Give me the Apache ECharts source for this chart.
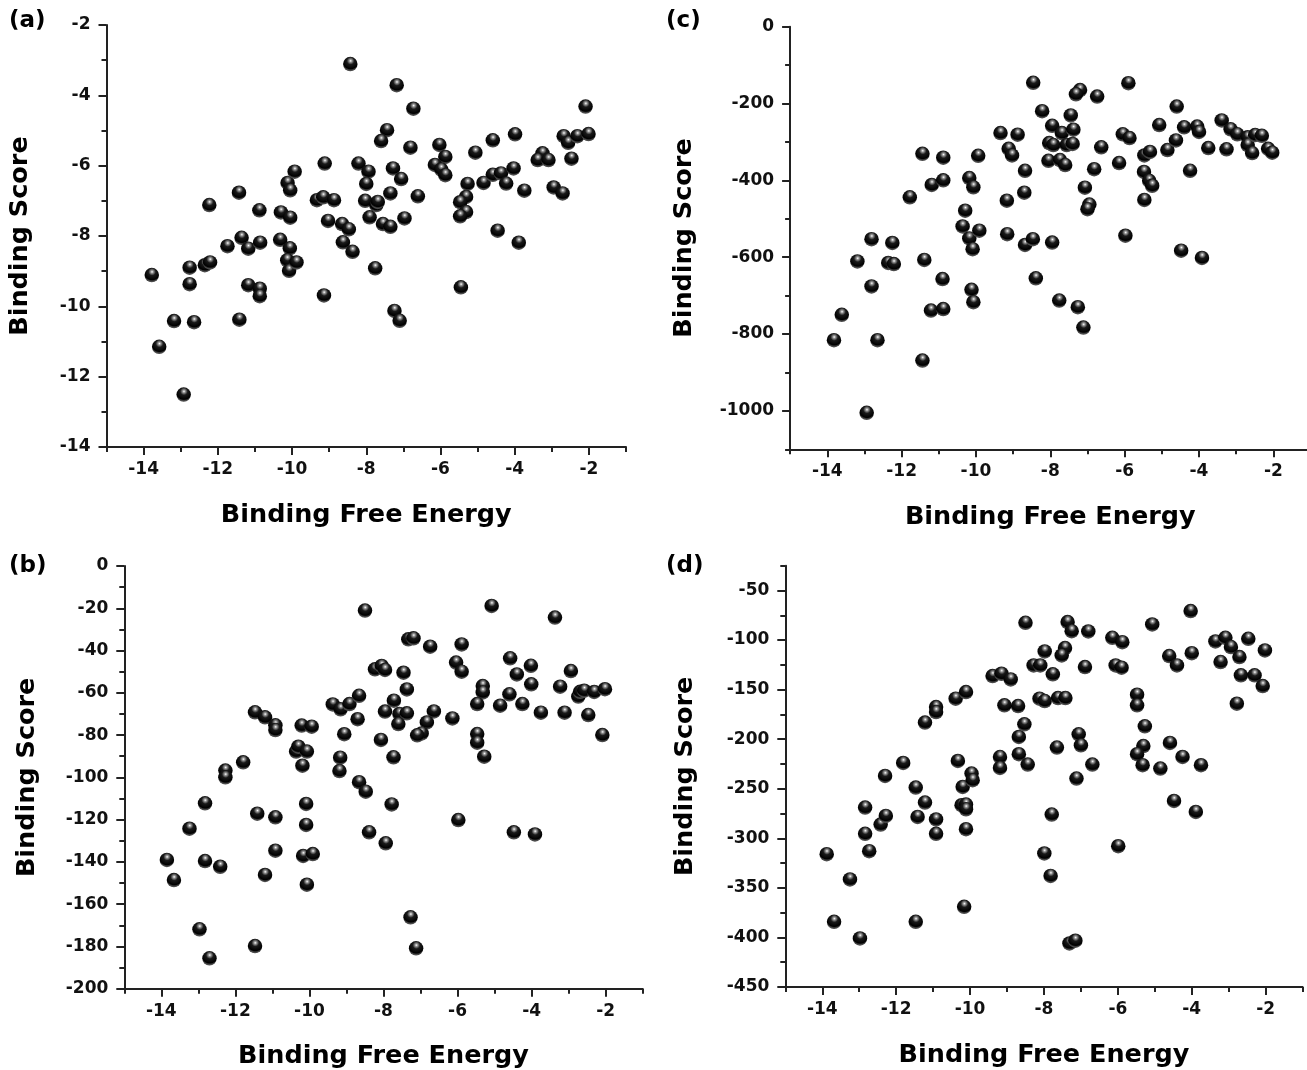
<!DOCTYPE html>
<html>
<head>
<meta charset="utf-8">
<script src="https://cdn.jsdelivr.net/npm/echarts@6/dist/echarts.min.js"></script>
<style>
  html, body { margin: 0; background: #fff; }
  #chart { width: 1307px; height: 1070px; }
</style>
</head>
<body>
<div id="chart"></div>
<script>
// [binding free energy, binding score]
const pointsA = [
  [-13.78,-9.11],[-13.58,-11.15],[-13.18,-10.42],[-12.92,-12.51],[-12.76,-8.90],[-12.76,-9.37],[-12.64,-10.45],
  [-12.35,-8.83],[-12.21,-8.75],[-12.23,-7.12],[-11.74,-8.29],[-11.43,-6.77],[-11.42,-10.38],[-11.36,-8.05],
  [-11.18,-8.36],[-11.18,-9.40],[-10.88,-7.27],[-10.86,-8.19],[-10.87,-9.50],[-10.87,-9.71],[-10.32,-8.11],
  [-10.30,-7.33],[-10.12,-6.49],[-10.05,-6.70],[-10.05,-7.48],[-10.06,-8.35],[-10.13,-8.69],[-10.08,-8.99],
  [-9.88,-8.75],[-9.93,-6.17],[-9.33,-6.98],[-9.16,-6.90],[-9.12,-5.94],[-9.14,-9.69],[-8.87,-6.98],
  [-9.03,-7.57],[-8.65,-7.66],[-8.47,-7.81],[-8.63,-8.18],[-8.37,-8.45],[-8.21,-5.94],[-8.43,-3.11],
  [-7.94,-6.17],[-8.00,-6.52],[-8.03,-7.00],[-7.73,-7.12],[-7.69,-7.03],[-7.91,-7.47],[-7.55,-7.66],
  [-7.35,-7.74],[-7.76,-8.92],[-7.18,-3.71],[-6.73,-4.38],[-7.44,-4.99],[-7.60,-5.30],[-6.81,-5.49],
  [-7.28,-6.08],[-7.06,-6.38],[-7.35,-6.79],[-6.61,-6.87],[-6.97,-7.50],[-7.24,-10.13],[-7.10,-10.41],
  [-6.03,-5.41],[-5.87,-5.75],[-6.15,-5.98],[-5.98,-6.11],[-5.87,-6.27],[-5.06,-5.63],[-5.27,-6.52],
  [-5.31,-6.89],[-5.47,-7.04],[-5.31,-7.32],[-5.47,-7.44],[-5.45,-9.46],[-4.59,-5.28],[-4.84,-6.49],
  [-4.59,-6.26],[-4.37,-6.22],[-4.23,-6.51],[-4.46,-7.85],[-3.99,-5.11],[-4.03,-6.08],[-3.74,-6.71],
  [-3.89,-8.19],[-3.25,-5.65],[-3.38,-5.84],[-3.09,-5.84],[-2.95,-6.62],[-2.71,-6.79],[-2.68,-5.16],
  [-2.56,-5.35],[-2.31,-5.16],[-2.47,-5.80],[-2.01,-5.10],[-2.09,-4.32]
];
const pointsB = [
  [-13.85,-139.1],[-13.66,-148.6],[-13.24,-124.3],[-12.97,-171.9],[-12.82,-112.3],[-12.82,-139.6],[-12.70,-185.6],
  [-12.41,-142.3],[-12.27,-96.8],[-12.27,-100.0],[-11.79,-92.9],[-11.47,-69.2],[-11.41,-117.2],[-11.47,-179.8],
  [-11.20,-71.6],[-11.20,-146.2],[-10.92,-75.4],[-10.92,-77.6],[-10.92,-118.9],[-10.92,-134.7],[-10.36,-87.8],
  [-10.30,-85.5],[-10.21,-75.5],[-10.07,-87.8],[-10.19,-94.5],[-9.94,-76.0],[-10.09,-112.6],[-10.09,-122.5],
  [-10.17,-137.2],[-9.91,-136.3],[-10.07,-150.8],[-9.37,-65.5],[-9.16,-67.8],[-8.92,-65.3],[-8.66,-61.4],
  [-8.70,-72.5],[-9.06,-79.6],[-9.17,-90.7],[-9.19,-97.0],[-8.66,-102.3],[-8.50,-21.1],
  [-8.48,-106.8],[-8.39,-126.0],[-8.23,-48.9],[-8.05,-47.3],[-7.96,-49.2],[-7.46,-50.5],[-7.37,-58.4],
  [-7.72,-63.7],[-7.96,-68.9],[-7.57,-70.0],[-7.37,-69.7],[-7.60,-74.8],[-8.07,-82.3],[-7.73,-90.5],
  [-7.78,-112.8],[-7.94,-131.2],[-7.33,-34.7],[-7.19,-34.2],[-6.74,-38.2],[-6.64,-68.8],[-6.83,-74.0],
  [-6.97,-79.2],[-7.09,-80.1],[-7.27,-166.2],[-7.12,-180.9],[-6.14,-72.1],[-6.04,-45.7],[-5.89,-50.0],
  [-5.89,-37.1],[-5.98,-120.2],[-5.08,-18.9],[-5.32,-56.8],[-5.32,-59.8],[-5.47,-65.3],[-5.47,-79.5],
  [-5.47,-83.6],[-5.28,-90.2],[-4.85,-66.1],[-4.60,-60.7],[-4.58,-43.7],[-4.40,-51.3],[-4.25,-65.3],
  [-4.02,-47.2],[-4.01,-56.0],[-3.75,-69.4],[-4.48,-126.0],[-3.91,-127.0],[-3.37,-24.4],[-3.23,-57.1],
  [-3.11,-69.4],[-2.94,-49.7],[-2.74,-61.8],[-2.69,-59.5],[-2.58,-59.0],[-2.47,-70.5],[-2.31,-59.6],
  [-2.02,-58.3],[-2.09,-80.0]
];
const pointsC = [
  [-13.82,-816],[-13.61,-750],[-12.94,-1005],[-13.19,-611],[-12.81,-553],[-12.81,-676],[-12.65,-816],
  [-12.25,-563],[-12.36,-615],[-12.21,-618],[-11.78,-444],[-11.44,-331],[-11.39,-607],[-11.44,-869],
  [-11.19,-412],[-11.21,-739],[-10.88,-341],[-10.88,-400],[-10.90,-657],[-10.88,-735],[-10.18,-394],
  [-10.07,-418],[-10.29,-479],[-10.36,-520],[-10.18,-551],[-10.09,-579],[-9.91,-531],[-10.12,-685],
  [-10.07,-717],[-9.94,-336],[-9.34,-277],[-9.12,-318],[-9.03,-335],[-8.88,-281],[-9.17,-453],
  [-9.16,-540],[-8.68,-375],[-8.70,-432],[-8.68,-568],
  [-8.46,-146],[-8.22,-220],[-7.95,-258],[-7.69,-277],[-7.45,-231],[-7.38,-268],[-8.03,-303],
  [-7.92,-308],[-7.56,-308],[-7.40,-305],[-8.05,-349],[-7.74,-347],[-7.60,-360],[-8.47,-553],
  [-7.95,-562],[-8.39,-655],[-7.76,-713],[-7.26,-730],[-7.11,-783],[-7.20,-165],[-7.31,-176],
  [-6.74,-182],[-6.63,-314],[-6.82,-371],[-7.07,-419],[-6.95,-463],[-7.00,-475],[-5.90,-147],
  [-6.05,-280],[-5.87,-290],[-6.15,-355],[-5.98,-544],[-5.47,-335],[-5.32,-326],[-5.48,-378],
  [-5.34,-401],[-5.26,-414],[-5.47,-451],[-5.07,-256],[-4.85,-321],[-4.62,-296],[-4.60,-208],
  [-4.40,-262],[-4.05,-260],[-4.00,-274],[-4.24,-375],[-4.48,-583],[-3.92,-602],[-3.75,-316],
  [-3.39,-244],[-3.26,-319],[-3.15,-267],[-2.97,-280],[-2.69,-288],[-2.69,-308],[-2.57,-329],
  [-2.49,-282],[-2.31,-284],[-2.14,-318],[-2.03,-328]
];
const pointsD = [
  [-13.88,-316.0],[-13.68,-384.2],[-13.25,-341.5],[-12.98,-401.0],[-12.84,-269.0],[-12.84,-295.5],[-12.73,-313.0],
  [-12.42,-286.1],[-12.28,-277.4],[-12.30,-237.1],[-11.81,-224.0],[-11.47,-248.8],[-11.42,-278.4],[-11.47,-384.2],
  [-11.22,-183.3],[-11.22,-263.9],[-10.92,-167.6],[-10.92,-172.6],[-10.92,-281.0],[-10.92,-295.5],[-10.39,-159.1],
  [-10.11,-152.5],[-10.33,-222.0],[-10.20,-248.2],[-9.96,-234.7],[-9.93,-241.4],[-10.23,-266.6],[-10.11,-265.9],
  [-10.11,-270.7],[-10.11,-290.8],[-10.16,-369.1],[-9.39,-136.3],[-9.15,-134.0],[-8.90,-139.7],[-9.07,-165.9],
  [-8.70,-166.6],[-8.68,-197.8],[-8.68,-215.2],[-9.19,-218.0],[-9.19,-229.0],[-8.50,-82.6],
  [-8.53,-185.0],[-8.44,-225.6],[-8.28,-125.6],[-8.10,-125.6],[-7.98,-111.5],[-7.76,-134.6],[-8.12,-159.1],
  [-7.98,-161.5],[-7.62,-158.5],[-7.42,-158.5],[-7.65,-208.5],[-7.79,-276.0],[-7.99,-315.3],[-7.82,-337.9],
  [-7.36,-81.9],[-7.25,-91.0],[-7.43,-108.1],[-7.52,-115.5],[-6.80,-91.3],[-6.89,-127.3],[-7.06,-195.1],
  [-7.00,-206.2],[-6.69,-225.6],[-7.12,-239.7],[-7.31,-406.0],[-7.15,-403.3],[-6.15,-97.7],[-5.88,-102.1],
  [-6.06,-125.6],[-5.90,-127.9],[-5.99,-307.9],[-5.48,-155.1],[-5.48,-165.9],[-5.27,-187.0],[-5.31,-206.9],
  [-5.48,-215.2],[-5.33,-226.3],[-5.07,-84.3],[-4.85,-229.7],[-4.61,-116.2],[-4.40,-125.6],[-4.59,-203.8],
  [-4.25,-217.9],[-4.48,-262.3],[-4.03,-70.8],[-4.00,-113.2],[-3.75,-226.3],[-3.89,-273.4],[-3.36,-101.4],
  [-3.09,-97.7],[-2.94,-107.1],[-3.22,-122.2],[-2.71,-117.2],[-2.47,-98.7],[-2.67,-135.6],[-2.30,-135.6],
  [-2.08,-146.4],[-2.02,-110.5],[-2.78,-164.2]
];

// tick labels
const xTicks = [-14, -12, -10, -8, -6, -4, -2];
const yTicksA = [-14, -12, -10, -8, -6, -4, -2];
const yTicksB = [0, -20, -40, -60, -80, -100, -120, -140, -160, -180, -200];
const yTicksC = [0, -200, -400, -600, -800, -1000];
const yTicksD = [-50, -100, -150, -200, -250, -300, -350, -400, -450];

const AXIS_COLOR = '#222';
const FONT = 'DejaVu Sans';

const panels = [
  { label: '(a)', labelPos: [9, 10], points: pointsA, yMin: -14, yMax: -2, yTicks: yTicksA, yMinor: 1,
    grid: { left: 106.5, top: 25, width: 519.5, height: 422 }, yGap: 73 },
  { label: '(b)', labelPos: [9, 555], points: pointsB, yMin: -200, yMax: 0, yTicks: yTicksB, yMinor: 10,
    grid: { left: 124.3, top: 566, width: 518.4, height: 422.7 }, yGap: 84 },
  { label: '(c)', labelPos: [666, 10], points: pointsC, yMin: -1100, yMax: 0, yTicks: yTicksC, yMinor: 100,
    grid: { left: 790.1, top: 26.7, width: 520.4, height: 422.6 }, yGap: 93 },
  { label: '(d)', labelPos: [666, 555], points: pointsD, yMin: -450, yMax: -25, yTicks: yTicksD, yMinor: 25,
    grid: { left: 785.3, top: 565.7, width: 517.3, height: 421.3 }, yGap: 87 }
];

const tickLine = { color: AXIS_COLOR, width: 2 };
const labelStyle = { fontFamily: FONT, fontWeight: 'bold', fontSize: 17, color: '#111' };
const nameStyle = { fontFamily: FONT, fontWeight: 'bold', fontSize: 25.5, color: '#000' };

const sphere = {
  type: 'radial', x: 0.52, y: 0.28, r: 0.64,
  colorStops: [
    { offset: 0, color: '#ffffff' },
    { offset: 0.14, color: '#9a9a9a' },
    { offset: 0.4, color: '#1a1a1a' },
    { offset: 0.85, color: '#000' },
    { offset: 1, color: '#4a4a4a' }
  ]
};

const grids = [];
const xAxes = [];
const yAxes = [];
const series = [];
const titles = [];

panels.forEach((p, i) => {
  grids.push(Object.assign({ containLabel: false, outerBoundsMode: 'none' }, p.grid));

  // main x axis: line, long ticks, labels, name
  xAxes.push({
    gridIndex: i, type: 'value', position: 'bottom', min: -15, max: -1,
    axisLine: { show: true, onZero: false, lineStyle: tickLine },
    axisTick: { show: true, customValues: xTicks, length: 8, lineStyle: tickLine },
    axisLabel: { customValues: xTicks, margin: 14, formatter: v => String(v), ...labelStyle },
    splitLine: { show: false },
    name: 'Binding Free Energy', nameLocation: 'middle', nameGap: 55,
    nameMoveOverlap: false, nameTextStyle: nameStyle
  });
  // short ticks every unit
  xAxes.push({
    gridIndex: i, type: 'value', position: 'bottom', min: -15, max: -1, interval: 1,
    axisLine: { show: false, onZero: false },
    axisTick: { show: true, length: 5, lineStyle: tickLine },
    axisLabel: { show: false }, splitLine: { show: false }
  });

  yAxes.push({
    gridIndex: i, type: 'value', position: 'left', min: p.yMin, max: p.yMax,
    axisLine: { show: true, onZero: false, lineStyle: tickLine },
    axisTick: { show: true, customValues: p.yTicks, length: 8, lineStyle: tickLine },
    axisLabel: { customValues: p.yTicks, margin: 16, formatter: v => String(v), ...labelStyle },
    splitLine: { show: false },
    name: 'Binding Score', nameLocation: 'middle', nameGap: p.yGap,
    nameMoveOverlap: false, nameTextStyle: nameStyle
  });
  yAxes.push({
    gridIndex: i, type: 'value', position: 'left', min: p.yMin, max: p.yMax, interval: p.yMinor,
    axisLine: { show: false, onZero: false },
    axisTick: { show: true, length: 5, lineStyle: tickLine },
    axisLabel: { show: false }, splitLine: { show: false }
  });

  series.push({
    type: 'scatter', xAxisIndex: 2 * i, yAxisIndex: 2 * i,
    data: p.points, symbolSize: 14.5,
    itemStyle: { color: sphere, opacity: 1 },
    clip: false, silent: true, animation: false
  });

  titles.push({
    text: p.label, left: p.labelPos[0], top: p.labelPos[1], padding: 0,
    textStyle: { fontFamily: FONT, fontWeight: 'bold', fontSize: 23, color: '#000' }
  });
});

const chart = echarts.init(document.getElementById('chart'), null, { renderer: 'canvas' });
chart.setOption({
  backgroundColor: '#fff',
  animation: false,
  title: titles,
  grid: grids,
  xAxis: xAxes,
  yAxis: yAxes,
  series: series
});
</script>
</body>
</html>
